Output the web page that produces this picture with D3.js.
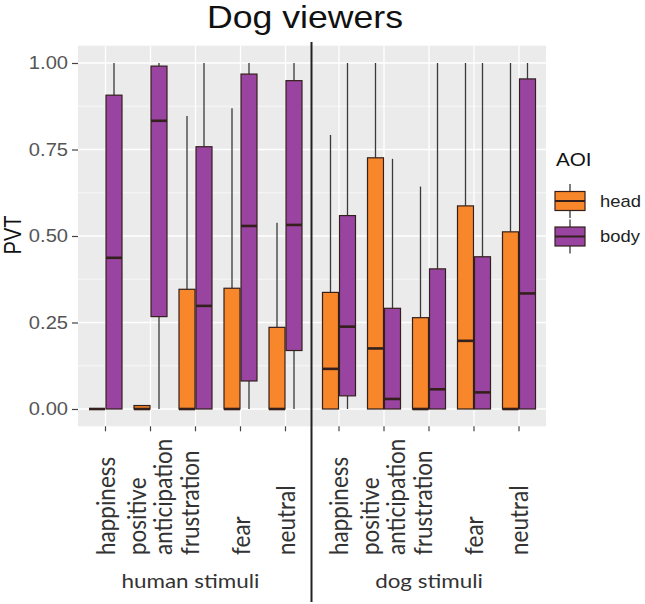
<!DOCTYPE html>
<html><head><meta charset="utf-8">
<script src="https://cdn.jsdelivr.net/npm/d3@7"></script>
<style>body{margin:0;background:#fff}</style>
</head><body>
<svg id="chart" width="645" height="604"></svg>
<script>
// ---------- data ----------
const categories = ["happiness", "positive anticipation", "frustration", "fear", "neutral"];
const groups = ["human stimuli", "dog stimuli"];
const aoiLevels = ["head", "body"];
const yTicks = [0, 0.25, 0.5, 0.75, 1];
const yMinor = [0.125, 0.375, 0.625, 0.875];
const title = "Dog viewers";
const yTitle = "PVT";
const legendTitle = "AOI";

// human stimuli
const humanHeadLow = [0, 0, 0, 0, 0];
const humanHeadQ1 = [0, 0, 0, 0, 0];
const humanHeadMed = [0, 0, 0, 0, 0];
const humanHeadQ3 = [0, 0.01, 0.346, 0.349, 0.236];
const humanHeadHigh = [0, 0.01, 0.847, 0.869, 0.538];
const humanBodyLow = [0, 0, 0, 0, 0];
const humanBodyQ1 = [0, 0.267, 0, 0.081, 0.169];
const humanBodyMed = [0.437, 0.833, 0.298, 0.529, 0.532];
const humanBodyQ3 = [0.907, 0.991, 0.758, 0.968, 0.949];
const humanBodyHigh = [1, 1, 1, 1, 1];
// dog stimuli
const dogHeadLow = [0, 0, 0, 0, 0];
const dogHeadQ1 = [0, 0, 0, 0, 0];
const dogHeadMed = [0.116, 0.175, 0, 0.197, 0];
const dogHeadQ3 = [0.337, 0.726, 0.264, 0.587, 0.512];
const dogHeadHigh = [0.792, 1, 0.643, 1, 1];
const dogBodyLow = [0, 0, 0, 0, 0];
const dogBodyQ1 = [0.038, 0, 0, 0, 0];
const dogBodyMed = [0.238, 0.029, 0.057, 0.048, 0.334];
const dogBodyQ3 = [0.559, 0.291, 0.405, 0.440, 0.954];
const dogBodyHigh = [1, 0.723, 1, 1, 1];

// ---------- layout / style ----------
const SX = 1.15; // horizontal stretch of the reference text
const panel = {left: 78, right: 546, top: 45.7, bottom: 426.3};
const colors = {head: "#F8862A", body: "#9A44A2"};
const outline = "#33201c";
const boxW = 16, dodge = 8.5;
const labelShift = {"frustration": -6};
const groupLabelShift = {"human stimuli": -5, "dog stimuli": 0};
const lineOffsets2 = [-14, 12];

const svg = d3.select("#chart");
const y = d3.scaleLinear().domain([-0.05, 1.05]).range([panel.bottom, panel.top]);
const xGroup = {
  "human stimuli": d3.scalePoint().domain(categories).range([105.5, 285.5]),
  "dog stimuli": d3.scalePoint().domain(categories).range([339, 519])
};
const color = d3.scaleOrdinal().domain(aoiLevels).range([colors.head, colors.body]);

// assemble records
const stats = {
  "human stimuli": {
    head: [humanHeadLow, humanHeadQ1, humanHeadMed, humanHeadQ3, humanHeadHigh],
    body: [humanBodyLow, humanBodyQ1, humanBodyMed, humanBodyQ3, humanBodyHigh]
  },
  "dog stimuli": {
    head: [dogHeadLow, dogHeadQ1, dogHeadMed, dogHeadQ3, dogHeadHigh],
    body: [dogBodyLow, dogBodyQ1, dogBodyMed, dogBodyQ3, dogBodyHigh]
  }
};
const records = [];
groups.forEach(g => aoiLevels.forEach(a => categories.forEach((c, i) => {
  const s = stats[g][a];
  records.push({group: g, aoi: a, cat: c, low: s[0][i], q1: s[1][i], med: s[2][i], q3: s[3][i], high: s[4][i]});
})));

// panel
svg.append("rect").attr("x", panel.left).attr("y", panel.top)
  .attr("width", panel.right - panel.left).attr("height", panel.bottom - panel.top)
  .attr("fill", "#EBEBEB");
// grid
svg.append("g").selectAll("line").data(yMinor).join("line")
  .attr("x1", panel.left).attr("x2", panel.right)
  .attr("y1", d => y(d)).attr("y2", d => y(d))
  .attr("stroke", "#fff").attr("stroke-width", 0.6);
svg.append("g").selectAll("line").data(yTicks).join("line")
  .attr("x1", panel.left).attr("x2", panel.right)
  .attr("y1", d => y(d)).attr("y2", d => y(d))
  .attr("stroke", "#fff").attr("stroke-width", 1.3);
groups.forEach(g => {
  svg.append("g").selectAll("line").data(categories).join("line")
    .attr("x1", d => xGroup[g](d)).attr("x2", d => xGroup[g](d))
    .attr("y1", panel.top).attr("y2", panel.bottom)
    .attr("stroke", "#fff").attr("stroke-width", 1.3);
});

// boxes
const bx = d => xGroup[d.group](d.cat) + (d.aoi === "head" ? -dodge : dodge);
const marks = svg.append("g");
marks.selectAll("line.wh").data(records.filter(d => d.high > d.q3)).join("line")
  .attr("class", "wh").attr("x1", bx).attr("x2", bx)
  .attr("y1", d => y(d.q3)).attr("y2", d => y(d.high))
  .attr("stroke", "#3a3a3a").attr("stroke-width", 1.3);
marks.selectAll("line.wl").data(records.filter(d => d.low < d.q1)).join("line")
  .attr("class", "wl").attr("x1", bx).attr("x2", bx)
  .attr("y1", d => y(d.q1)).attr("y2", d => y(d.low))
  .attr("stroke", "#3a3a3a").attr("stroke-width", 1.3);
marks.selectAll("rect.box").data(records).join("rect")
  .attr("class", "box")
  .attr("x", d => bx(d) - boxW / 2).attr("width", boxW)
  .attr("y", d => y(d.q3)).attr("height", d => Math.max(0, y(d.q1) - y(d.q3)))
  .attr("fill", d => color(d.aoi)).attr("stroke", outline).attr("stroke-width", 1.2);
marks.selectAll("line.med").data(records).join("line")
  .attr("class", "med")
  .attr("x1", d => bx(d) - boxW / 2).attr("x2", d => bx(d) + boxW / 2)
  .attr("y1", d => y(d.med)).attr("y2", d => y(d.med))
  .attr("stroke", outline).attr("stroke-width", 2.6);

// y axis
const yAxis = svg.append("g").attr("transform", `translate(${panel.left},0)`)
  .call(d3.axisLeft(y).tickValues(yTicks).tickFormat(d3.format(".2f")).tickSize(6).tickPadding(4));
yAxis.select(".domain").remove();
yAxis.selectAll(".tick line").attr("stroke", "#444").attr("stroke-width", 1.2);
yAxis.selectAll(".tick text")
  .attr("font-family", "'Liberation Sans', Arial, sans-serif").attr("font-size", 17.5)
  .attr("fill", "#555").attr("x", -10 / SX).attr("transform", `scale(${SX},1)`);

// x ticks and labels
groups.forEach(g => {
  const xs = xGroup[g];
  svg.append("g").selectAll("line").data(categories).join("line")
    .attr("x1", d => xs(d)).attr("x2", d => xs(d))
    .attr("y1", panel.bottom).attr("y2", panel.bottom + 5)
    .attr("stroke", "#444").attr("stroke-width", 1.2);
  categories.forEach(c => {
    const lines = c.split(" ");
    lines.forEach((ln, k) => {
      const off = (lines.length === 2 ? lineOffsets2[k] : 0) + (labelShift[c] || 0);
      svg.append("text")
        .attr("transform", `translate(${xs(c) + off},555) scale(${SX},1) rotate(-90)`)
        .attr("dy", "0.36em")
        .attr("font-family", "Lato, 'Open Sans', sans-serif").attr("font-size", 22.5)
        .attr("fill", "#333").text(ln);
    });
  });
  const [r0, r1] = xs.range();
  svg.append("text")
    .attr("transform", `translate(${(r0 + r1) / 2 + groupLabelShift[g]},588) scale(${SX},1)`)
    .attr("text-anchor", "middle")
    .attr("font-family", "Lato, 'Open Sans', sans-serif").attr("font-size", 19.5)
    .attr("fill", "#333").text(g);
});

// separator
svg.append("line").attr("x1", 311.5).attr("x2", 311.5).attr("y1", 42).attr("y2", 602)
  .attr("stroke", "#222").attr("stroke-width", 2);

// titles
svg.append("text").attr("transform", `translate(305,28) scale(${SX},1)`)
  .attr("text-anchor", "middle").attr("font-family", "'Liberation Sans', Arial, sans-serif")
  .attr("font-size", 31).attr("fill", "#111").text(title);
svg.append("text").attr("transform", `translate(13,235) scale(${SX},1) rotate(-90)`)
  .attr("text-anchor", "middle").attr("dy", "0.36em")
  .attr("font-family", "'Liberation Sans', Arial, sans-serif")
  .attr("font-size", 20).attr("fill", "#111").text(yTitle);

// legend
const lg = svg.append("g");
lg.append("text").attr("transform", `translate(556,166) scale(${SX},1)`)
  .attr("font-family", "'Liberation Sans', Arial, sans-serif").attr("font-size", 18)
  .attr("fill", "#111").text(legendTitle);
const keyTop = d3.scalePoint().domain(aoiLevels).range([191.5, 227]);
aoiLevels.forEach(a => {
  const t = keyTop(a), kx = 555, kw = 30, kh = 19;
  const g = lg.append("g");
  g.append("line").attr("x1", kx + kw / 2).attr("x2", kx + kw / 2).attr("y1", t - 7.5).attr("y2", t + kh + 7.5)
    .attr("stroke", "#3a3a3a").attr("stroke-width", 1.3);
  g.append("rect").attr("x", kx).attr("y", t).attr("width", kw).attr("height", kh)
    .attr("fill", color(a)).attr("stroke", outline).attr("stroke-width", 1.2);
  g.append("line").attr("x1", kx).attr("x2", kx + kw).attr("y1", t + kh / 2).attr("y2", t + kh / 2)
    .attr("stroke", outline).attr("stroke-width", 2);
  g.append("text").attr("transform", `translate(600,${t + kh / 2}) scale(${SX},1)`)
    .attr("dy", "0.36em").attr("font-family", "'Liberation Sans', Arial, sans-serif")
    .attr("font-size", 16).attr("fill", "#222").text(a);
});
</script>
</body></html>
